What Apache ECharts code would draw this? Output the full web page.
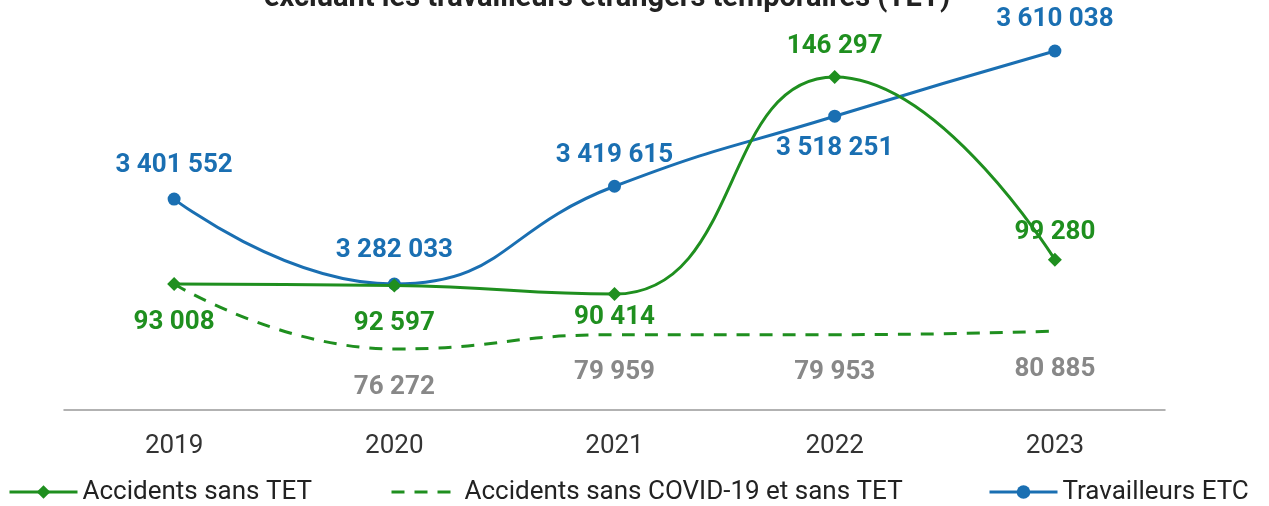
<!DOCTYPE html>
<html>
<head>
<meta charset="utf-8">
<script src="https://cdn.jsdelivr.net/npm/echarts@6/dist/echarts.min.js"></script>
<style>
  html, body { margin: 0; padding: 0; background: #fff; }
  #chart { width: 1269px; height: 506px; }
</style>
</head>
<body>
<div id="chart"></div>
<script>
var years = ['2019', '2020', '2021', '2022', '2023'];
var accidents = [93008, 92597, 90414, 146297, 99280];
var accidentsNoCovid = [93008, 76272, 79959, 79953, 80885];
var workers = [3401552, 3282033, 3419615, 3518251, 3610038];
var names = ['Accidents sans TET', 'Accidents sans COVID-19 et sans TET', 'Travailleurs ETC'];

var green = '#1f8f1f';
var blue = '#1a6fb2';
var grey = '#888888';
var font = 'Roboto';

function fmt(v) {
    return String(v).replace(/\B(?=(\d{3})+(?!\d))/g, ' ');
}

// label spacing per point (distance from the marker)
var accPos = ['bottom', 'bottom', 'bottom', 'top', 'top'];
var accDist = [18, 18, 3, 11, 7];
var wrkPos = ['top', 'top', 'top', 'bottom', 'top'];
var wrkDist = [14, 14, 11, 13, 12];

var myChart = echarts.init(document.getElementById('chart'));

var legendBase = {
    top: 474, itemWidth: 68, itemHeight: 17,
    lineStyle: { width: 3 },
    textStyle: { fontSize: 26, color: '#222', fontFamily: font }
};

var option = {
    animation: false,
    textStyle: { fontFamily: font },
    title: {
        text: 'excluant les travailleurs étrangers temporaires (TET)',
        left: 602,
        textAlign: 'center',
        top: -21,
        textStyle: { fontSize: 29, fontWeight: 'bold', color: '#222', fontFamily: font }
    },
    legend: [
        Object.assign({}, legendBase, { data: [names[0]], left: 3 }),
        Object.assign({}, legendBase, { data: [{ name: names[1], itemStyle: { color: 'rgba(0,0,0,0)' } }], left: 385 }),
        Object.assign({}, legendBase, { data: [names[2]], left: 983 })
    ],
    grid: { left: 64, right: 104, top: 22, bottom: 96 },
    xAxis: {
        type: 'category',
        data: years,
        boundaryGap: true,
        axisLine: { lineStyle: { color: '#999', width: 1.5 } },
        axisTick: { show: false },
        axisLabel: { fontSize: 26, color: '#333', margin: 23 }
    },
    yAxis: [
        { type: 'value', min: 60568, max: 160465, show: false, splitLine: { show: false } },
        { type: 'value', min: 3104643, max: 3650891, show: false, splitLine: { show: false } }
    ],
    series: [
        {
            name: names[1],
            type: 'line',
            yAxisIndex: 0,
            data: accidentsNoCovid,
            smooth: 0.5,
            symbol: 'circle',
            symbolSize: 2,
            showAllSymbol: true,
            z: 1,
            lineStyle: { color: green, width: 3, type: [13, 10] },
            itemStyle: { color: 'rgba(0,0,0,0)' },
            label: {
                show: true,
                position: 'bottom',
                distance: 24,
                fontSize: 26,
                fontWeight: 'bold',
                color: grey,
                formatter: function (p) { return p.dataIndex === 0 ? '' : fmt(p.value); }
            }
        },
        {
            name: names[0],
            type: 'line',
            yAxisIndex: 0,
            data: accidents.map(function (v, i) {
                return { value: v, label: { position: accPos[i], distance: accDist[i] } };
            }),
            smooth: 0.5,
            symbol: 'diamond',
            symbolSize: 14,
            z: 3,
            lineStyle: { color: green, width: 3 },
            itemStyle: { color: green },
            label: {
                show: true,
                fontSize: 26,
                fontWeight: 'bold',
                color: green,
                formatter: function (p) { return fmt(p.value); }
            }
        },
        {
            name: names[2],
            type: 'line',
            yAxisIndex: 1,
            data: workers.map(function (v, i) {
                return { value: v, label: { position: wrkPos[i], distance: wrkDist[i] } };
            }),
            smooth: 0.5,
            symbol: 'circle',
            symbolSize: 13,
            z: 2,
            lineStyle: { color: blue, width: 3 },
            itemStyle: { color: blue },
            label: {
                show: true,
                fontSize: 26,
                fontWeight: 'bold',
                color: blue,
                formatter: function (p) { return fmt(p.value); }
            }
        }
    ]
};

myChart.setOption(option);
</script>
</body>
</html>
